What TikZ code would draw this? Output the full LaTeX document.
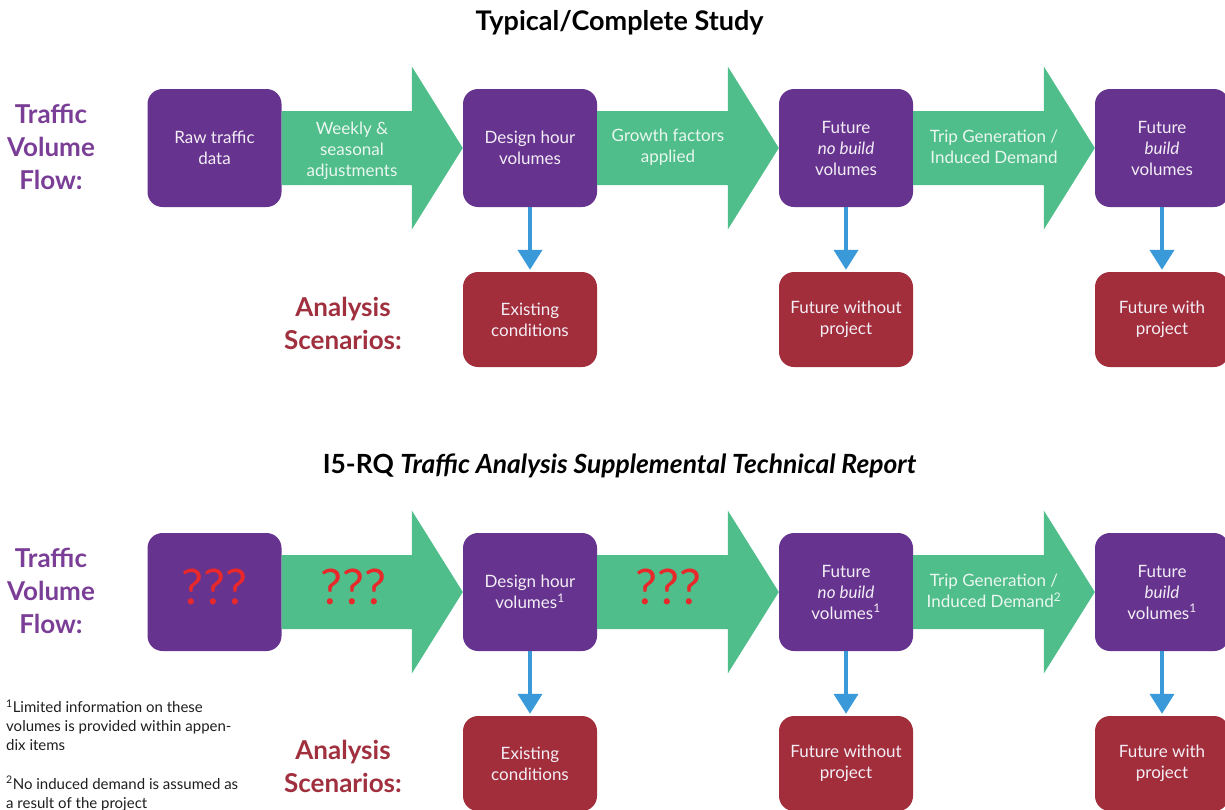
\documentclass[tikz,border=0pt]{standalone}
\usepackage{fontspec}
\setmainfont{Lato}
\usetikzlibrary{arrows.meta,calc,positioning}

\definecolor{volpurple}{HTML}{66338F}
\definecolor{scenred}{HTML}{A32E3B}
\definecolor{flowgreen}{HTML}{4FBE8A}
\definecolor{arrowblue}{HTML}{3A9AD9}
\definecolor{labelpurple}{HTML}{7A3E97}
\definecolor{labelred}{HTML}{A0303E}
\definecolor{boxtext}{HTML}{F3EDF5}
\definecolor{greentext}{HTML}{EAF7F0}
\definecolor{qred}{HTML}{E8282B}
\definecolor{notetext}{HTML}{1E1E1E}

\tikzset{
  volbox/.style={fill=volpurple, rounded corners=15pt, minimum width=134pt,
    minimum height=118pt, inner sep=0pt, align=center, text=boxtext,
    font=\fontsize{17}{21}\selectfont},
  scenbox/.style={volbox, fill=scenred, minimum height=95pt},
  steptext/.style={align=center, text=greentext, font=\fontsize{17}{21}\selectfont},
  qmarks/.style={text=qred, inner sep=0pt, font=\fontsize{49}{49}\selectfont},
  downarrow/.style={draw=arrowblue, line width=4pt, shorten >=2pt,
    -{Triangle[width=24pt,length=20pt]}},
  flowlabel/.style={align=center, text=labelpurple, font=\bfseries\fontsize{26}{33}\selectfont},
  scenlabel/.style={align=center, text=labelred, font=\bfseries\fontsize{26}{33}\selectfont},
  titletext/.style={anchor=base, inner sep=0pt, font=\bfseries\fontsize{27}{32}\selectfont},
  notetext/.style={anchor=north west, align=left, inner sep=0pt, text=notetext,
    font=\fontsize{15}{19}\selectfont}
}

% wide green arrow from one box to the next
\newcommand{\greenarrow}[2]{%
  \fill[flowgreen] ($(#1.east)+(0,37)$) -- ($(#2.west)+(-51,37)$)
    -- ($(#2.west)+(-51,81.5)$) -- (#2.west) -- ($(#2.west)+(-51,-81.5)$)
    -- ($(#2.west)+(-51,-37)$) -- ($(#1.east)+(0,-37)$) -- cycle;}

\begin{document}
\begin{tikzpicture}[x=1pt,y=1pt]
  \useasboundingbox (0,0) rectangle (1225,-809);

% typical study
  \node[titletext] (title1) at (619.5,-30) {Typical/Complete Study};
  \node[flowlabel] (flow1) at (51,-147) {Traffic\\Volume\\Flow:};
  \node[scenlabel] (scen1) at (343,-323) {Analysis\\Scenarios:};

  \node[volbox] (raw1) at (214.5,-148) {Raw traffic\\data};
  \node[volbox] (dhv1) at (530,-148) {Design hour\\volumes};
  \node[volbox] (fnb1) at (846,-148) {Future\\\textit{no build}\\volumes};
  \node[volbox] (fb1) at (1162,-148) {Future\\\textit{build}\\volumes};

  \node[scenbox] (exist1) at (530,-319.5) {Existing\\conditions};
  \node[scenbox] (fwo1) at (846,-319.5) {Future without\\project};
  \node[scenbox] (fw1) at (1162,-319.5) {Future with\\project};

  \greenarrow{raw1}{dhv1}
  \greenarrow{dhv1}{fnb1}
  \greenarrow{fnb1}{fb1}
  \node[steptext] (wk1) at (352,-151) {Weekly \&\\seasonal\\adjustments};
  \node[steptext] (gf1) at (668,-147) {Growth factors\\applied};
  \node[steptext] (tg1) at (994,-147) {Trip Generation /\\Induced Demand};

  \draw[downarrow] (dhv1) -- (exist1);
  \draw[downarrow] (fnb1) -- (fwo1);
  \draw[downarrow] (fb1) -- (fw1);

% supplemental report
  \node[titletext, font=\bfseries\fontsize{26.4}{32}\selectfont] (title2) at (619.5,-473) {I5-RQ \textit{Traffic Analysis Supplemental Technical Report}};
  \node[flowlabel] (flow2) at (51,-591) {Traffic\\Volume\\Flow:};
  \node[scenlabel] (scen2) at (343,-766) {Analysis\\Scenarios:};

  \node[volbox] (raw2) at (214.5,-592) {};
  \node[volbox] (dhv2) at (530,-592) {Design hour\\volumes\textsuperscript{1}};
  \node[volbox] (fnb2) at (846,-592) {Future\\\textit{no build}\\volumes\textsuperscript{1}};
  \node[volbox] (fb2) at (1162,-592) {Future\\\textit{build}\\volumes\textsuperscript{1}};

  \node[scenbox] (exist2) at (530,-763.5) {Existing\\conditions};
  \node[scenbox] (fwo2) at (846,-763.5) {Future without\\project};
  \node[scenbox] (fw2) at (1162,-763.5) {Future with\\project};

  \greenarrow{raw2}{dhv2}
  \greenarrow{dhv2}{fnb2}
  \greenarrow{fnb2}{fb2}
  \node[qmarks] (q1) at (214,-587) {???};
  \node[qmarks] (q2) at (353,-587) {???};
  \node[qmarks] (q3) at (668,-587) {???};
  \node[steptext] (tg2) at (994,-591) {Trip Generation /\\Induced Demand\textsuperscript{2}};

  \draw[downarrow] (dhv2) -- (exist2);
  \draw[downarrow] (fnb2) -- (fwo2);
  \draw[downarrow] (fb2) -- (fw2);

  \node[notetext] (note1) at (6,-700) {\textsuperscript{1}Limited information on these\\volumes is provided within appen-\\dix items};
  \node[notetext] (note2) at (6,-776) {\textsuperscript{2}No induced demand is assumed as\\a result of the project};

\end{tikzpicture}
\end{document}
